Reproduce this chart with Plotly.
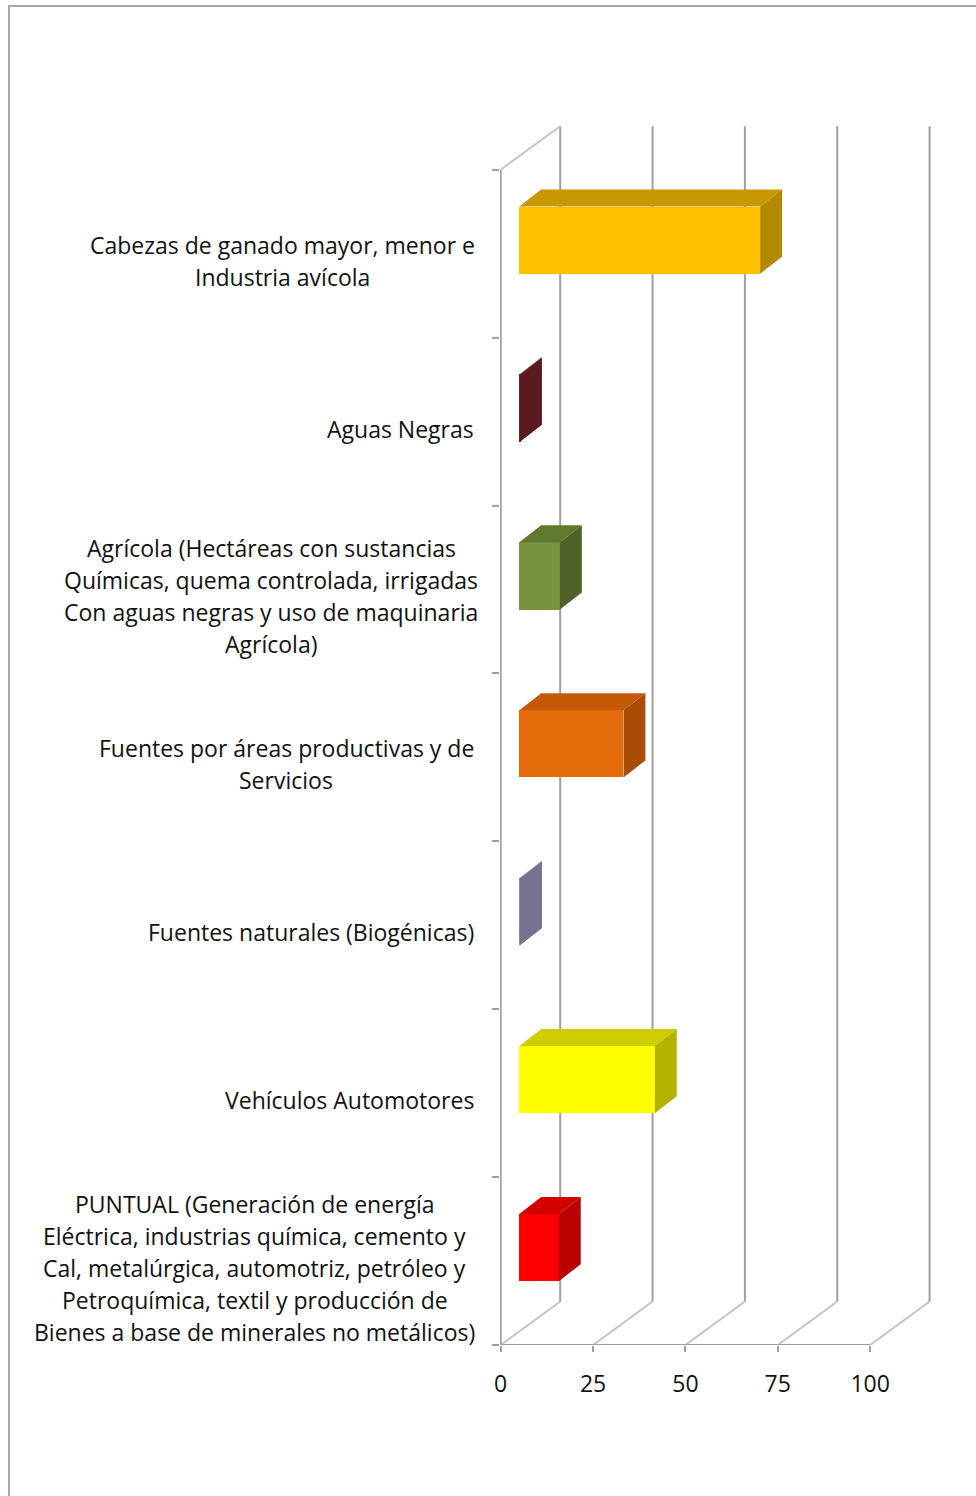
import plotly.graph_objects as go

# ---------------- data ----------------
categories = [
    "PUNTUAL (Generación de energía<br>Eléctrica, industrias química, cemento y<br>Cal, metalúrgica, automotriz, petróleo y<br>Petroquímica, textil y producción de<br>Bienes a base de minerales no metálicos)",
    "Vehículos Automotores",
    "Fuentes naturales (Biogénicas)",
    "Fuentes por áreas productivas y de<br>Servicios",
    "Agrícola (Hectáreas con sustancias<br>Químicas, quema controlada, irrigadas<br>Con aguas negras y uso de maquinaria<br>Agrícola)",
    "Aguas Negras",
    "Cabezas de ganado mayor, menor e<br>Industria avícola",
]
values = [10.7, 36.7, 0.2, 28.2, 11.0, 0.2, 65.2]
front_colors = ["#FF0000", "#FFFF00", "#8B86A8", "#E46C0A", "#77933C", "#6A2228", "#FFC000"]
top_colors = ["#D40000", "#CDCD00", "#7D7898", "#C45A08", "#5F7A2E", "#5E1B22", "#C99800"]
side_colors = ["#B80000", "#B4B400", "#77718F", "#A94C06", "#4F6228", "#5A1A20", "#B38900"]
x_ticks = [0, 25, 50, 75, 100]
label_centers_px = [255, None, None, 286, 271, None, 282]

# ---------------- geometry (pixels -> units) ----------------
PX_X = 3.694          # px per x unit
PX_Y = 167.9          # px per category
L, T, W, H = 500, 110, 460, 1235
x_lo = -0.7 / PX_X
x_hi = x_lo + W / PX_X
y_lo = -0.5
y_hi = y_lo + H / PX_Y

DX = 59.5 / PX_X      # depth offset of back wall
DY = 43.5 / PX_Y
dx1, dy1 = 18.6 / PX_X, 13.5 / PX_Y
dx2, dy2 = 40.5 / PX_X, 30.5 / PX_Y
HALF = 0.2

n = len(categories)
fig = go.Figure()

# front faces
fig.add_trace(go.Bar(
    orientation="h",
    y=[i + dy1 for i in range(n)],
    x=values,
    base=[dx1] * n,
    width=2 * HALF,
    marker=dict(color=front_colors, line=dict(width=0)),
    hoverinfo="skip",
    showlegend=False,
))

# top and side faces
for i, v in enumerate(values):
    yt1 = i + dy1 + HALF
    yt2 = i + dy2 + HALF
    fig.add_trace(go.Scatter(
        x=[dx1, dx1 + v, dx2 + v, dx2, dx1],
        y=[yt1, yt1, yt2, yt2, yt1],
        fill="toself", fillcolor=top_colors[i], mode="lines",
        line=dict(width=0, color=top_colors[i]),
        hoverinfo="skip", showlegend=False,
    ))
    fig.add_trace(go.Scatter(
        x=[dx1 + v, dx1 + v, dx2 + v, dx2 + v, dx1 + v],
        y=[i + dy1 - HALF, i + dy1 + HALF, i + dy2 + HALF, i + dy2 - HALF, i + dy1 - HALF],
        fill="toself", fillcolor=side_colors[i], mode="lines",
        line=dict(width=0, color=side_colors[i]),
        hoverinfo="skip", showlegend=False,
    ))

shapes = []
grid_col = "#A0A0A0"
diag_col = "#C4C4C4"
for t in x_ticks:
    shapes.append(dict(type="line", xref="x", yref="y", layer="below",
                       x0=t + DX, y0=y_lo + DY, x1=t + DX, y1=n - 0.5 + DY,
                       line=dict(color=grid_col, width=2)))
    shapes.append(dict(type="line", xref="x", yref="y", layer="below",
                       x0=t, y0=y_lo, x1=t + DX, y1=y_lo + DY,
                       line=dict(color=diag_col, width=2)))
# left wall
shapes.append(dict(type="line", xref="x", yref="y", layer="below",
                   x0=0, y0=y_lo, x1=0, y1=n - 0.5, line=dict(color=grid_col, width=2)))
shapes.append(dict(type="line", xref="x", yref="y", layer="below",
                   x0=0, y0=n - 0.5, x1=DX, y1=n - 0.5 + DY, line=dict(color=diag_col, width=2)))
# front floor edge
shapes.append(dict(type="line", xref="x", yref="y", layer="below",
                   x0=0, y0=y_lo, x1=x_ticks[-1], y1=y_lo, line=dict(color=grid_col, width=2)))
# outer chart border
shapes.append(dict(type="rect", xref="paper", yref="paper",
                   x0=(9 - L) / W, x1=1.5, y0=-0.5, y1=(T + H - 6) / H,
                   line=dict(color="#A6A6A6", width=2), fillcolor="rgba(0,0,0,0)"))

# category labels, one annotation per line
annotations = []
LINE = 32
FONT = "Open Sans"
for i, lab in enumerate(categories):
    lines = lab.split("<br>")
    k = len(lines)
    for j, ln in enumerate(lines):
        off = (j - (k - 1) / 2) * LINE + 7
        if label_centers_px[i] is None:
            ax, anc = (476 - L) / W, "right"
        else:
            ax, anc = (label_centers_px[i] - L) / W, "center"
        annotations.append(dict(
            x=ax, xref="paper", y=i, yref="y", text=ln, showarrow=False,
            xanchor=anc, yanchor="middle", yshift=-off,
            font=dict(family=FONT, size=23, color="#111111"),
        ))

fig.update_layout(
    width=976, height=1496,
    margin=dict(l=L, r=976 - L - W, t=T, b=1496 - T - H),
    paper_bgcolor="white", plot_bgcolor="white",
    xaxis=dict(range=[x_lo, x_hi], tickvals=x_ticks, ticks="outside", ticklen=6,
               tickwidth=2, tickcolor=grid_col, showgrid=False, zeroline=False,
               showline=False, tickfont=dict(family=FONT, size=23, color="#111111"),
               ticklabelstandoff=12, fixedrange=True),
    yaxis=dict(range=[y_lo, y_hi], tickvals=[k - 0.5 for k in range(n + 1)],
               ticks="outside", ticklen=7, tickwidth=2, tickcolor=grid_col,
               showticklabels=False, showgrid=False, zeroline=False, showline=False,
               fixedrange=True),
    shapes=shapes, annotations=annotations,
    bargap=0, showlegend=False,
)

fig.write_html("out.html", config={"displayModeBar": False},
               post_script="document.body.style.margin='0';")
